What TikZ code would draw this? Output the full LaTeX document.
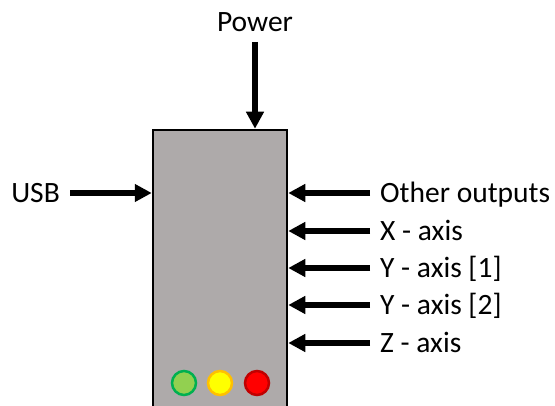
\documentclass[tikz,border=0pt]{standalone}
\usepackage{fontspec}
\setmainfont{Carlito}
\usepackage{xcolor}
\usetikzlibrary{arrows.meta,positioning,shapes}
\definecolor{boardgray}{RGB}{174,170,170}
\definecolor{ledgreen}{RGB}{146,208,80}
\definecolor{ledgreenrim}{RGB}{0,176,80}
\definecolor{ledyellow}{RGB}{255,255,0}
\definecolor{ledyellowrim}{RGB}{255,192,0}
\definecolor{ledred}{RGB}{255,0,0}
\definecolor{ledredrim}{RGB}{192,0,0}

\begin{document}
\begin{tikzpicture}[x=1pt,y=-1pt,font=\fontsize{29.5}{35}\selectfont,
    board/.style={draw=black,line width=2.5pt,fill=boardgray,minimum width=134pt,minimum height=290pt},
    lbl/.style={inner sep=10pt,text height=19pt,text depth=0pt},
    led/.style={circle,line width=2.5pt,minimum size=24pt,inner sep=0pt},
    arr/.style={-{Triangle[length=17pt,width=17pt]},line width=6pt}]
    \useasboundingbox (0,0) rectangle (555,406);
    \clip (0,0) rectangle (555,406);
    % Board, lamps and the signals going in
    \node[board] at (220,275) (ctrl) {};
    \node[led,fill=ledgreen,draw=ledgreenrim] at (184,383) (ledG) {};
    \node[led,fill=ledyellow,draw=ledyellowrim] at (220,383) (ledY) {};
    \node[led,fill=ledred,draw=ledredrim] at (257,383) (ledR) {};

    \node[lbl,anchor=south] at (255,42) (power) {Power};
    \node[lbl,anchor=east] at (70,193) (usb) {USB};
    \node[lbl,anchor=west] at (370,193) (other) {Other outputs};
    \node[lbl,anchor=west] at (370,231) (xaxis) {X - axis};
    \node[lbl,anchor=west] at (370,268) (yaxisA) {Y - axis [1]};
    \node[lbl,anchor=west] at (370,305) (yaxisB) {Y - axis [2]};
    \node[lbl,anchor=west] at (370,343) (zaxis) {Z - axis};

    \draw[arr] (power.south) -- (power.south |- ctrl.north);
    \draw[arr] (usb.east) -- (usb.east -| ctrl.west);
    \draw[arr] (other.west) -- (other.west -| ctrl.east);
    \draw[arr] (xaxis.west) -- (xaxis.west -| ctrl.east);
    \draw[arr] (yaxisA.west) -- (yaxisA.west -| ctrl.east);
    \draw[arr] (yaxisB.west) -- (yaxisB.west -| ctrl.east);
    \draw[arr] (zaxis.west) -- (zaxis.west -| ctrl.east);
\end{tikzpicture}
\end{document}
